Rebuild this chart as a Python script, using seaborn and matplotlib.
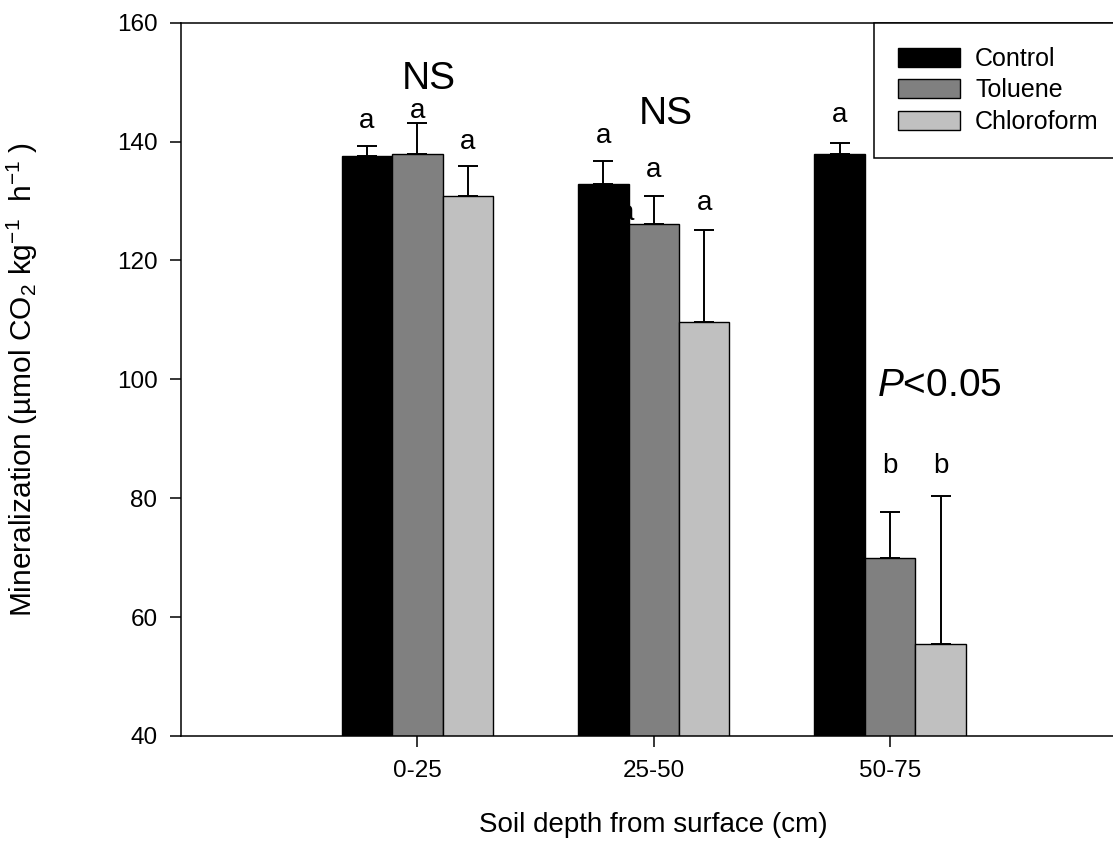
import numpy as np
import pandas as pd
import matplotlib
matplotlib.use("Agg")
import matplotlib.pyplot as plt
import seaborn as sns

# ---- data ----
depths = ["0-25", "25-50", "50-75"]
treatments = ["Control", "Toluene", "Chloroform"]
control_mean = [137.5, 132.8, 137.9]
toluene_mean = [137.9, 126.1, 69.9]
chloroform_mean = [130.8, 109.6, 55.5]
control_err = [1.7, 4.0, 1.9]
toluene_err = [5.2, 4.7, 7.7]
chloroform_err = [5.1, 15.5, 24.9]
control_letters = ["a", "a", "a"]
toluene_letters = ["a", "a", "b"]
chloroform_letters = ["a", "a", "b"]
control_letter_y = [143.4, 141.0, 144.4]
toluene_letter_y = [145.2, 135.3, 85.5]
chloroform_letter_y = [140.0, 129.6, 85.5]
group_labels = ["NS", "NS", r"$\mathit{P}$<0.05"]
group_label_x = [0.05, 1.05, 2.21]
group_label_y = [150.5, 144.7, 98.8]
colors = ["#000000", "#808080", "#c0c0c0"]

means = [control_mean, toluene_mean, chloroform_mean]
errs = [control_err, toluene_err, chloroform_err]
letters = [control_letters, toluene_letters, chloroform_letters]
letter_ys = [control_letter_y, toluene_letter_y, chloroform_letter_y]

df = pd.DataFrame({
    "depth": np.repeat([depths], 3, axis=0).ravel(),
    "treatment": np.repeat(treatments, 3),
    "value": np.concatenate(means),
})

sns.set_style("ticks")
plt.rcParams["font.family"] = ["Liberation Sans", "DejaVu Sans"]
plt.rcParams["mathtext.fontset"] = "custom"
plt.rcParams["mathtext.rm"] = "Liberation Sans"
plt.rcParams["mathtext.it"] = "Liberation Sans:italic"
plt.rcParams["mathtext.default"] = "regular"
plt.rcParams["text.color"] = "black"
plt.rcParams["axes.labelcolor"] = "black"

W, H = 1113, 841
AX_L, AX_R, AX_T, AX_B = 181, 1126.5, 22.7, 736
fig = plt.figure(figsize=(W / 100, H / 100), dpi=100)
ax = fig.add_axes([AX_L / W, 1 - AX_B / H, (AX_R - AX_L) / W, (AX_B - AX_T) / H])

sns.barplot(data=df, x="depth", y="value", hue="treatment", order=depths,
            hue_order=treatments, palette=colors, width=0.64, gap=0,
            errorbar=None, edgecolor="black", linewidth=1.0, ax=ax,
            saturation=1)

bar_containers = list(ax.containers)
for ci, cont in enumerate(bar_containers):
    xs = [p.get_x() + p.get_width() / 2 for p in cont.patches]
    ys = [p.get_height() for p in cont.patches]
    ax.errorbar(xs, ys, yerr=[np.zeros(3), errs[ci]], fmt="none",
                ecolor="black", elinewidth=1.4, capsize=7.5, capthick=1.4,
                zorder=3)
    for j, x in enumerate(xs):
        ax.text(x, letter_ys[ci][j], letters[ci][j], ha="center", va="center",
                fontsize=20, zorder=4)

# partially hidden letter behind the 25-50 control bar
ax.text(0.885, 128.0, "a", ha="center", va="center", fontsize=20, zorder=0.5)

for lab, x, y in zip(group_labels, group_label_x, group_label_y):
    ax.text(x, y, lab, ha="center", va="center", fontsize=28, zorder=4)

ax.set_xlim(-1, 3)
ax.set_ylim(40, 160)
ax.set_yticks([40, 60, 80, 100, 120, 140, 160])
ax.tick_params(axis="both", direction="out", length=8, width=1.1,
               labelsize=17.5, pad=9, color="black", labelcolor="black")
for s in ["left", "bottom", "top", "right"]:
    ax.spines[s].set_visible(True)
    ax.spines[s].set_linewidth(1.1)
    ax.spines[s].set_color("black")

ax.set_xlabel("Soil depth from surface (cm)", fontsize=20, labelpad=22)
ax.set_ylabel("Mineralization (µmol CO$_2$ kg$^{-1}$  h$^{-1}$ )", fontsize=21.5)
ax.yaxis.set_label_coords((40 - AX_L) / (AX_R - AX_L), 0.5)

handles, labels = ax.get_legend_handles_labels()
leg = ax.legend(handles, labels, loc="upper left",
                bbox_to_anchor=(874 / W, 1 - 23 / H),
                bbox_transform=fig.transFigure, borderaxespad=0,
                fontsize=18, frameon=True, fancybox=False, framealpha=1,
                edgecolor="black", borderpad=0.95, labelspacing=0.3,
                handlelength=2.5, handleheight=0.8, handletextpad=0.6)
leg.get_frame().set_linewidth(1.1)

fig.savefig("out.png", dpi=100)
